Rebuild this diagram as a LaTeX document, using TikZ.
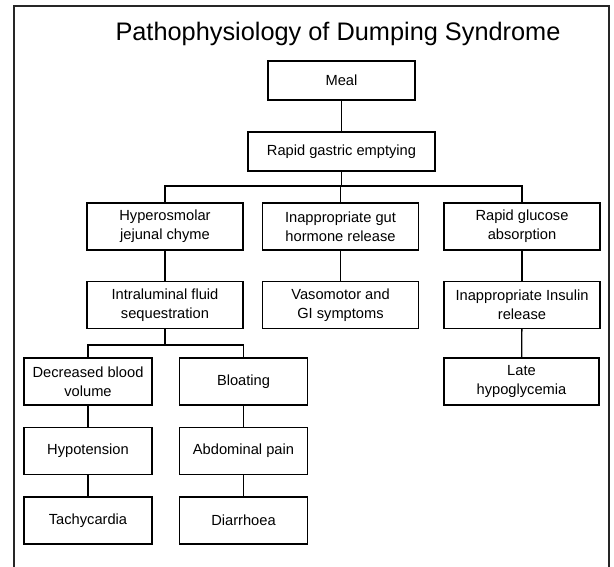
\documentclass[tikz,border=0pt]{standalone}
\usepackage{fontspec}
\setmainfont{Liberation Sans}
\begin{document}
\begin{tikzpicture}[x=0.75pt,y=-0.75pt,
  box/.style={draw=black, line width=1pt, align=center, inner sep=0pt,
    minimum width=117pt, minimum height=35.25pt,
    font=\fontsize{11}{14.2}\selectfont},
  small/.style={box, minimum width=96pt},
  flat/.style={box, minimum height=29.25pt},
  link/.style={draw=black, line width=1pt},
  frame/.style={draw=black!85, line width=2pt}]
\useasboundingbox (0,0) rectangle (614,567);
\fill[white] (0,0) rectangle (614,567);
\draw[frame] (14,570) -- (14,6) -- (609,6) -- (609,570);
\node[anchor=base, font=\fontsize{19}{22}\selectfont] (title) at (338,41) {Pathophysiology of Dumping Syndrome};
\node[flat, minimum width=110.25pt] (meal) at (341.5,80.5) {Meal};
\node[flat, minimum width=140.25pt] (rge) at (341.5,151.5) {Rapid gastric emptying};
\node[box] (hyp) at (165,226.5) {Hyperosmolar\\jejunal chyme};
\node[box] (igh) at (340.5,226.5) {Inappropriate gut\\hormone release};
\node[box] (rgl) at (522,226.5) {Rapid glucose\\absorption};
\node[box] (ilf) at (165,305) {Intraluminal fluid\\sequestration};
\node[box] (vas) at (340.5,305) {Vasomotor and\\GI symptoms};
\node[box] (iir) at (522,305) {Inappropriate Insulin\\release};
\node[small] (dbv) at (88,381.5) {Decreased blood\\volume};
\node[small] (blo) at (243.5,381.5) {Bloating};
\node[box, minimum width=116.25pt] (lhy) at (521.5,381.5) {Late\\hypoglycemia};
\node[small] (hyt) at (88,451) {Hypotension};
\node[small] (abd) at (243.5,451) {Abdominal pain};
\node[small] (tac) at (88,520.5) {Tachycardia};
\node[small] (dia) at (243.5,520.5) {Diarrhoea};
\coordinate (b1) at (341.5,186);
\coordinate (b2) at (165,345);
\draw[link] (meal) -- (rge);
\draw[link] (rge.south) -- (b1);
\draw[link] (hyp.north) |- (b1) -| (rgl.north);
\draw[link] (igh.north) -- (igh.north |- b1);
\draw[link] (hyp) -- (ilf);
\draw[link] (igh) -- (vas);
\draw[link] (rgl) -- (iir);
\draw[link] (iir) -- (lhy);
\draw[link] (ilf.south) -- (b2);
\draw[link] (dbv.north) |- (b2) -| (blo.north);
\draw[link] (dbv) -- (hyt);
\draw[link] (hyt) -- (tac);
\draw[link] (blo) -- (abd);
\draw[link] (abd) -- (dia);
\end{tikzpicture}
\end{document}
